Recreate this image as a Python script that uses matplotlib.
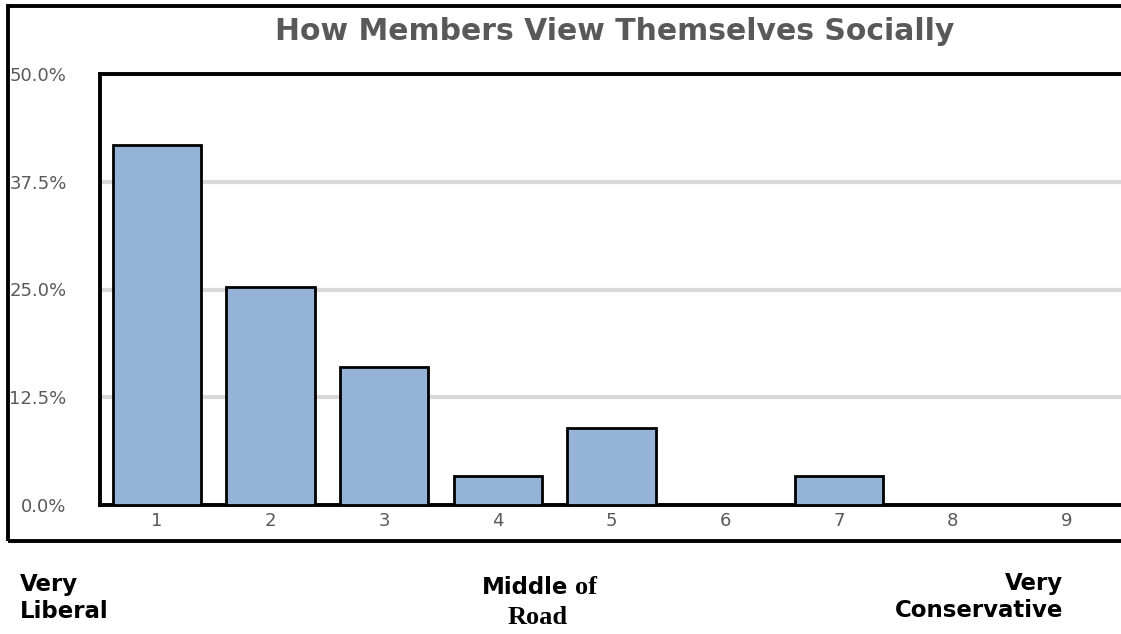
import numpy as np
import matplotlib.pyplot as plt
from matplotlib.patches import Rectangle

# share of members at each point of the 1-9 social scale
scale_points = ['1', '2', '3', '4', '5', '6', '7', '8', '9']
share_pct = [41.8, 25.3, 16.0, 3.4, 8.9, 0.0, 3.4, 0.0, 0.0]
y_ticks = [0.0, 12.5, 25.0, 37.5, 50.0]

W, H = 1121, 634
fig = plt.figure(figsize=(W / 100, H / 100), dpi=100)
fig.patch.set_facecolor('white')

plt.rcParams['font.family'] = ['DejaVu Sans']
grey = '#595959'

# outer chart border
fig.patches.append(Rectangle((8 / W, 1 - 541 / H), 1.2, (541 - 6) / H,
                             transform=fig.transFigure, fill=False,
                             edgecolor='black', linewidth=2.8, zorder=0))

ax = fig.add_axes([100 / W, 1 - 505 / H, 1023 / W, 431 / H])
x = np.arange(len(scale_points))
ax.bar(x, share_pct, width=0.78, color='#95B3D7', edgecolor='black',
       linewidth=2.0, zorder=3)

ax.set_xlim(-0.5, len(scale_points) - 0.5)
ax.set_ylim(0, 50)
ax.set_yticks(y_ticks)
ax.set_yticklabels(['%.1f%%' % v for v in y_ticks])
ax.set_xticks(x)
ax.set_xticklabels(scale_points)
ax.yaxis.grid(True, color='#D9D9D9', linewidth=3, zorder=0)
ax.set_axisbelow(True)
ax.tick_params(axis='y', length=0, pad=24, labelsize=13, labelcolor=grey)
ax.tick_params(axis='x', length=0, pad=5, labelsize=13, labelcolor=grey)
for s in ax.spines.values():
    s.set_linewidth(2.8)
    s.set_color('black')

fig.text(615 / W, 1 - 31 / H, 'How Members View Themselves Socially',
         ha='center', va='center', fontsize=21.5, fontweight='bold',
         color=grey)

# scale anchors under the chart
fig.text(20 / W, 1 - 598 / H, 'Very\nLiberal', ha='left', va='center',
         fontsize=16.5, fontweight='bold', linespacing=1.2)
fig.text(1063 / W, 1 - 597 / H, 'Very\nConservative', ha='right', va='center',
         multialignment='right', fontsize=16.5, fontweight='bold', linespacing=1.2)
fig.text(568 / W, 1 - 588 / H, 'Middle', ha='right', va='center',
         fontsize=16.5, fontweight='bold')
fig.text(575 / W, 1 - 588 / H, 'of', ha='left', va='center',
         fontsize=19, fontweight='bold', family='Liberation Serif')
fig.text(538 / W, 1 - 617 / H, 'Road', ha='center', va='center',
         fontsize=19, fontweight='bold', family='Liberation Serif')

fig.savefig('out.png', dpi=100)
